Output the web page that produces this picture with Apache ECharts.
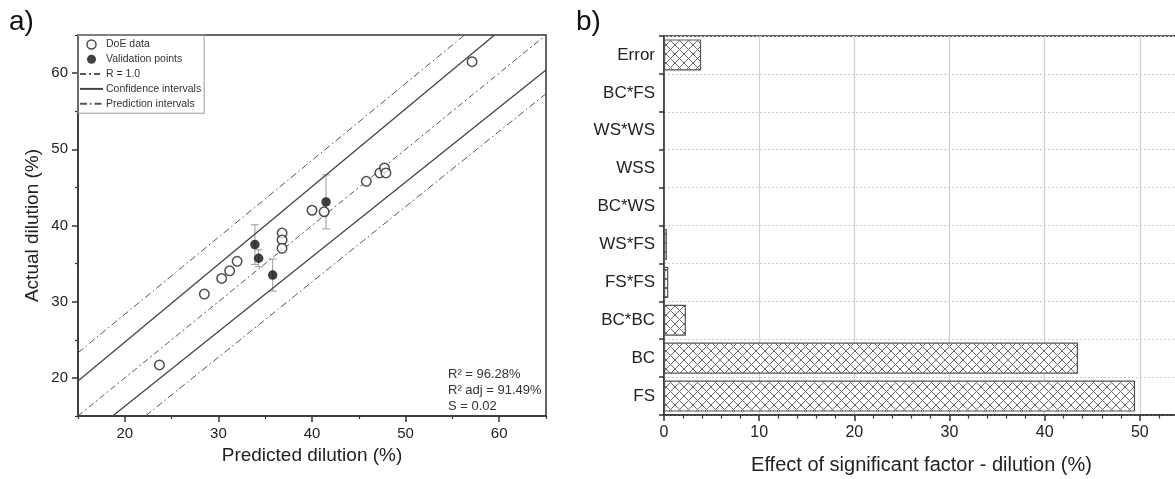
<!DOCTYPE html>
<html>
<head>
<meta charset="utf-8">
<script src="https://cdn.jsdelivr.net/npm/echarts@6/dist/echarts.min.js"></script>
<style>
html,body{margin:0;padding:0;background:#fff;}
#c{width:1175px;height:479px;}
</style>
</head>
<body>
<div id="c"></div>
<script>
// ---- Panel a) data ----
const doeX = [23.7, 28.5, 30.35, 31.2, 32.0, 36.8, 36.8, 36.8, 40.0, 41.3, 45.8, 47.25, 47.75, 47.9, 57.1];
const doeY = [21.7, 31.0, 33.05, 34.05, 35.3, 39.0, 38.1, 37.0, 42.0, 41.8, 45.8, 46.9, 47.55, 46.9, 61.5];
const valX = [33.9, 34.3, 35.8, 41.5];
const valY = [37.5, 35.7, 33.5, 43.1];
const valErr = [2.6, 1.1, 2.1, 3.55];
const refLine = [[15, 15], [65, 65]];
const ciUpper = [[15, 19.6], [59.5, 65]];
const ciLower = [[18.7, 15], [65, 60.4]];
const piUpper = [[15, 23.3], [56.3, 65]];
const piLower = [[22.2, 15], [65, 57.3]];
const statsText = ['R\u00b2 = 96.28%', 'R\u00b2 adj = 91.49%', 'S = 0.02'];
const axisTicksA = [20, 30, 40, 50, 60];
const minorTicksA = [15, 25, 35, 45, 55, 65];

// ---- Panel b) data ----
const factors = ['FS', 'BC', 'BC*BC', 'FS*FS', 'WS*FS', 'BC*WS', 'WSS', 'WS*WS', 'BC*FS', 'Error'];
const effects = [49.5, 43.5, 2.3, 0.45, 0.3, 0, 0, 0, 0, 3.9];

const FONT = '"Liberation Sans", Arial, sans-serif';

// crosshatch pattern
const pc = document.createElement('canvas');
pc.width = 9; pc.height = 9;
const pctx = pc.getContext('2d');
pctx.fillStyle = '#ffffff';
pctx.fillRect(0, 0, 9, 9);
pctx.strokeStyle = '#6a6a6a';
pctx.lineWidth = 1;
pctx.beginPath();
pctx.moveTo(0, 0); pctx.lineTo(9, 9);
pctx.moveTo(9, 0); pctx.lineTo(0, 9);
pctx.stroke();

const chart = echarts.init(document.getElementById('c'), null, {renderer: 'canvas'});

const lineBase = {type: 'line', xAxisIndex: 0, yAxisIndex: 0, symbol: 'none', silent: true, animation: false};
const hiddenSym = {color: 'rgba(0,0,0,0)', borderColor: 'rgba(0,0,0,0)', borderWidth: 0, opacity: 0};

const option = {
  animation: false,
  textStyle: {fontFamily: FONT},
  graphic: [
    {type: 'text', left: 9, top: 8, style: {text: 'a)', fontSize: 28, fontFamily: FONT, fill: '#111'}},
    {type: 'text', left: 576, top: 8, style: {text: 'b)', fontSize: 28, fontFamily: FONT, fill: '#111'}},
    {type: 'text', left: 448, top: 366, style: {text: statsText.join('\n'), fontSize: 13, lineHeight: 16, fontFamily: FONT, fill: '#333'}}
  ],
  legend: {
    left: 78, top: 35, orient: 'vertical',
    itemWidth: 23, itemHeight: 9, itemGap: 3.8,
    padding: [4, 3, 4, 1],
    borderColor: '#999', borderWidth: 1, borderRadius: 0,
    textStyle: {fontSize: 10.5, fontFamily: FONT, color: '#333', padding: [0, 0, 0, -2]},
    data: [
      {name: 'DoE data', icon: 'circle', itemStyle: {color: '#fff', borderColor: '#222', borderWidth: 1.5}},
      {name: 'Validation points', icon: 'circle', itemStyle: {color: '#111'}},
      {name: 'R = 1.0', itemStyle: hiddenSym},
      {name: 'Confidence intervals', itemStyle: hiddenSym},
      {name: 'Prediction intervals', itemStyle: hiddenSym}
    ]
  },
  grid: [
    {left: 78, right: 629, top: 35, bottom: 63, show: true, borderColor: '#333', borderWidth: 1.5, backgroundColor: 'transparent', outerBoundsMode: 'none', containLabel: false},
    {left: 664, right: -60, top: 36, bottom: 64, show: true, borderColor: '#333', borderWidth: 1.5, backgroundColor: 'transparent', outerBoundsMode: 'none', containLabel: false}
  ],
  xAxis: [
    {type: 'value', gridIndex: 0, min: 15, max: 65, interval: 5,
     name: 'Predicted dilution (%)', nameLocation: 'middle', nameGap: 30,
     nameTextStyle: {fontSize: 19, color: '#222', fontFamily: FONT},
     axisLine: {show: true, lineStyle: {color: '#333', width: 1.5}},
     axisTick: {show: true, length: 6, customValues: axisTicksA, lineStyle: {color: '#333', width: 1.5}},
     axisLabel: {fontSize: 15, color: '#222', margin: 10, customValues: axisTicksA},
     splitLine: {show: false}},
    {type: 'value', gridIndex: 0, min: 15, max: 65, interval: 5, position: 'bottom',
     axisLine: {show: false},
     axisTick: {show: true, length: 3, customValues: minorTicksA, lineStyle: {color: '#333', width: 1.2}},
     axisLabel: {show: false}, splitLine: {show: false}},
    {type: 'value', gridIndex: 1, min: 0, max: 60, interval: 10,
     name: 'Effect of significant factor - dilution (%)', nameLocation: 'middle', nameGap: 40,
     nameTextStyle: {fontSize: 20, color: '#222', fontFamily: FONT, padding: [0, 56, 0, 0]},
     axisLine: {show: true, lineStyle: {color: '#333', width: 1.5}},
     axisTick: {show: true, length: 6, lineStyle: {color: '#333', width: 1.5}},
     minorTick: {show: true, splitNumber: 5, length: 3.5, lineStyle: {color: '#333', width: 1.2}},
     axisLabel: {fontSize: 16, color: '#222', margin: 10},
     splitLine: {show: true, lineStyle: {color: '#cfcfcf', width: 1.2}}}
  ],
  yAxis: [
    {type: 'value', gridIndex: 0, min: 15, max: 65, interval: 5,
     name: 'Actual dilution (%)', nameLocation: 'middle', nameGap: 36,
     nameTextStyle: {fontSize: 19, color: '#222', fontFamily: FONT},
     axisLine: {show: true, lineStyle: {color: '#333', width: 1.5}},
     axisTick: {show: true, length: 6, customValues: axisTicksA, lineStyle: {color: '#333', width: 1.5}},
     axisLabel: {fontSize: 15, color: '#222', margin: 10, customValues: axisTicksA},
     splitLine: {show: false}},
    {type: 'value', gridIndex: 0, min: 15, max: 65, interval: 5, position: 'left',
     axisLine: {show: false},
     axisTick: {show: true, length: 3, customValues: minorTicksA, lineStyle: {color: '#333', width: 1.2}},
     axisLabel: {show: false}, splitLine: {show: false}},
    {type: 'category', gridIndex: 1, data: factors, boundaryGap: true,
     axisLine: {show: true, lineStyle: {color: '#333', width: 1.5}},
     axisTick: {show: true, length: 5, lineStyle: {color: '#333', width: 1.5}},
     axisLabel: {fontSize: 17, color: '#222', margin: 9},
     splitLine: {show: true, lineStyle: {color: '#c8c8c8', type: [2, 2], width: 1}}}
  ],
  series: [
    Object.assign({}, lineBase, {name: 'Prediction intervals', data: piUpper, itemStyle: {color: '#555'}, lineStyle: {color: '#555', width: 1, type: [7, 3, 1.5, 3]}}),
    Object.assign({}, lineBase, {name: 'Prediction intervals', data: piLower, itemStyle: {color: '#555'}, lineStyle: {color: '#555', width: 1, type: [7, 3, 1.5, 3]}}),
    Object.assign({}, lineBase, {name: 'Confidence intervals', data: ciUpper, itemStyle: {color: '#444'}, lineStyle: {color: '#444', width: 1.3, type: 'solid'}}),
    Object.assign({}, lineBase, {name: 'Confidence intervals', data: ciLower, itemStyle: {color: '#444'}, lineStyle: {color: '#444', width: 1.3, type: 'solid'}}),
    Object.assign({}, lineBase, {name: 'R = 1.0', data: refLine, itemStyle: {color: '#555'}, lineStyle: {color: '#555', width: 1, type: [6, 3, 2, 3]}}),
    {
      type: 'custom', name: 'err', xAxisIndex: 0, yAxisIndex: 0, silent: true,
      data: valX.map((x, i) => [x, valY[i], valErr[i]]),
      renderItem: function (params, api) {
        const x = api.value(0), y = api.value(1), e = api.value(2);
        const t = api.coord([x, y + e]), b = api.coord([x, y - e]);
        const w = 4;
        const st = {stroke: '#999', lineWidth: 1};
        return {type: 'group', children: [
          {type: 'line', shape: {x1: t[0], y1: t[1], x2: b[0], y2: b[1]}, style: st},
          {type: 'line', shape: {x1: t[0] - w, y1: t[1], x2: t[0] + w, y2: t[1]}, style: st},
          {type: 'line', shape: {x1: b[0] - w, y1: b[1], x2: b[0] + w, y2: b[1]}, style: st}
        ]};
      },
      z: 3
    },
    {type: 'scatter', name: 'DoE data', xAxisIndex: 0, yAxisIndex: 0, symbol: 'circle', symbolSize: 9.5,
     itemStyle: {color: '#fff', borderColor: '#222', borderWidth: 1.5},
     data: doeX.map((x, i) => [x, doeY[i]]), z: 4},
    {type: 'scatter', name: 'Validation points', xAxisIndex: 0, yAxisIndex: 0, symbol: 'circle', symbolSize: 9.5,
     itemStyle: {color: '#111'},
     data: valX.map((x, i) => [x, valY[i]]), z: 5},
    {type: 'bar', name: 'effect', xAxisIndex: 2, yAxisIndex: 2, data: effects,
     barCategoryGap: '18%',
     itemStyle: {color: {image: pc, repeat: 'repeat'}, borderColor: '#555', borderWidth: 1.2},
     silent: true}
  ]
};
chart.setOption(option);
</script>
</body>
</html>
